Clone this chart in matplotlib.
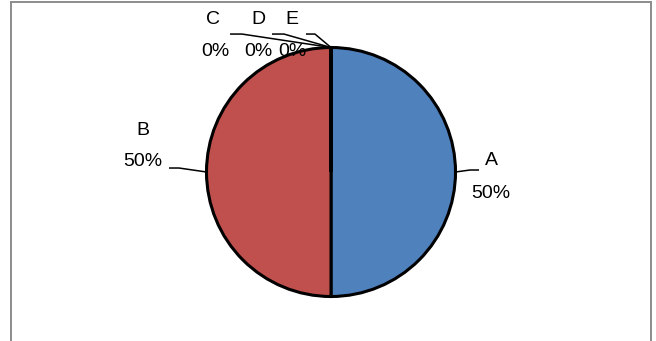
import numpy as np
import matplotlib
matplotlib.use("Agg")
import matplotlib.pyplot as plt
from matplotlib.patches import Rectangle

# ─── DATA ──────────────────────────────────────────────────────────────────────
categories = ["A", "B", "C", "D", "E"]
values     = [50, 50, 0, 0, 0]
colors     = ["#4F81BD", "#C0504D", "#9BBB59", "#8064A2", "#4BACC6"]

# label placement (name, pct) in pie-radius units, and leader-line elbows
label_pos = {
    "A": ((1.285, 0.096), (1.285, -0.169)),
    "B": ((-1.51, 0.337), (-1.51, 0.088)),
    "C": ((-0.948, 1.221), (-0.932, 0.964)),
    "D": ((-0.586, 1.221), (-0.586, 0.964)),
    "E": ((-0.313, 1.221), (-0.313, 0.964)),
}
leader_elbow = {
    "A": ((1.116, 0.016), (1.189, 0.016)),
    "B": ((-1.221, 0.032), (-1.301, 0.032)),
    "C": ((-0.715, 1.108), (-0.811, 1.108)),
    "D": ((-0.378, 1.108), (-0.474, 1.108)),
    "E": ((-0.129, 1.108), (-0.201, 1.108)),
}
# ───────────────────────────────────────────────────────────────────────────────

W, H = 656, 341
CX, CY, R = 331, 172, 124.5

fig = plt.figure(figsize=(W / 100, H / 100), dpi=100)
ax = fig.add_axes([0, 0, 1, 1])
ax.axis("off")

wedges, _ = ax.pie(values, colors=colors, startangle=90, counterclock=False,
                   radius=1.0, wedgeprops=dict(edgecolor="black", linewidth=2.2))
ax.set_aspect("equal")
ax.set_xlim(-CX / R, (W - CX) / R)
ax.set_ylim(-(H - CY) / R, CY / R)

total = sum(values)
font = dict(family="Liberation Sans", fontsize=14, ha="center", va="center")
for w, name, v in zip(wedges, categories, values):
    mid = np.deg2rad((w.theta1 + w.theta2) / 2)
    anchor = (np.cos(mid), np.sin(mid))
    (e1, e2) = leader_elbow[name]
    ax.plot([anchor[0], e1[0], e2[0]], [anchor[1], e1[1], e2[1]],
            color="black", linewidth=1.1, solid_capstyle="butt")
    (np_, pp) = label_pos[name]
    ax.text(*np_, name, **font)
    ax.text(*pp, f"{v / total:.0%}", **font)

# chart frame
fig.patches.append(Rectangle((10.5 / W, -0.05), (651 - 10.5) / W, 1.05 - 1.5 / H,
                             transform=fig.transFigure, fill=False,
                             edgecolor="#8C8C8C", linewidth=1.4))

fig.savefig("out.png", dpi=100)
